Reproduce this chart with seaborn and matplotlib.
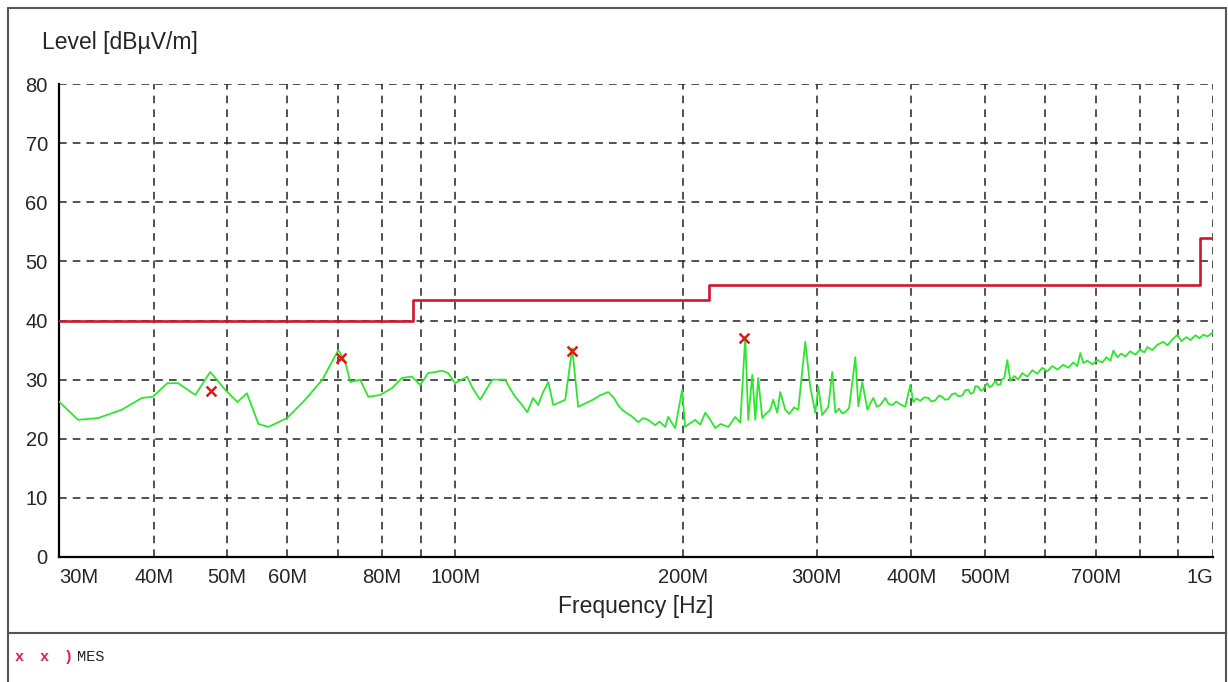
import matplotlib
matplotlib.use("Agg")
import matplotlib.pyplot as plt
from matplotlib.lines import Line2D
import seaborn as sns

freq_mhz = [30.0, 31.8, 33.8, 36.3, 38.6, 39.9, 41.7, 43.1, 45.4, 47.5, 49.7, 51.6, 53.1, 55.0, 56.7,
            60.0, 63.4, 66.8, 70.1, 71.6, 72.7, 74.9, 76.8, 79.6, 82.6, 85.1, 87.7, 89.9, 92.1, 96.1,
            97.9, 100.0, 103.7, 105.5, 107.9, 111.9, 116.4, 118.0, 120.0, 122.0, 124.5, 126.7, 128.7,
            130.5, 132.7, 134.7, 137.0, 139.7, 142.7, 145.3, 149.8, 152.0, 155.0, 159.2, 162.0, 164.0,
            166.1, 168.5, 171.0, 174.4, 177.0, 179.7, 183.6, 186.0, 189.3, 191.0, 195.1, 199.3, 201.1,
            204.0, 207.4, 210.5, 213.8, 217.1, 220.4, 224.0, 229.3, 234.2, 237.8, 241.4, 243.6, 246.6,
            248.9, 251.1, 254.2, 257.0, 260.4, 262.8, 266.1, 268.5, 272.6, 276.0, 280.0, 283.6, 289.7,
            294.1, 298.6, 301.4, 305.0, 310.7, 314.5, 317.4, 321.0, 324.0, 327.2, 331.0, 337.3, 340.4,
            344.5, 349.9, 353.0, 356.3, 360.0, 363.9, 369.5, 373.0, 377.4, 382.0, 387.0, 392.6, 398.6,
            402.3, 406.0, 411.0, 416.0, 421.1, 425.0, 430.1, 435.0, 439.3, 443.0, 447.4, 452.0, 457.0,
            461.0, 466.8, 471.0, 475.5, 479.0, 482.8, 486.0, 490.0, 494.0, 497.6, 503.7, 507.0, 511.4,
            516.1, 520.0, 524.0, 527.0, 530.4, 535.2, 540.2, 546.8, 553.4, 560.2, 568.8, 577.5, 586.3,
            595.3, 604.4, 613.7, 623.1, 634.5, 644.2, 654.1, 662.1, 668.2, 674.3, 682.6, 693.0, 703.6,
            714.4, 723.2, 732.0, 738.7, 747.7, 756.8, 766.1, 777.7, 789.6, 801.7, 811.5, 819.0, 831.6,
            844.3, 860.0, 870.6, 884.0, 897.5, 908.5, 922.4, 933.7, 948.0, 959.5, 971.0, 982.9, 998.0,
            1000.0]
level = [26.3, 23.2, 23.5, 24.9, 26.9, 27.1, 29.4, 29.4, 27.4, 31.3, 28.3, 26.2, 27.7, 22.5, 22.0,
         23.5, 26.6, 30.0, 35.0, 33.0, 29.6, 30.0, 27.1, 27.4, 28.6, 30.3, 30.5, 29.1, 31.1, 31.5,
         31.1, 29.4, 30.5, 28.5, 26.6, 30.0, 30.0, 28.6, 27.1, 26.0, 24.5, 26.9, 25.7,
         27.8, 29.6, 25.7, 26.1, 26.6, 35.3, 25.4, 26.2, 26.6, 27.3, 27.9, 26.9, 25.7,
         24.9, 24.3, 23.8, 22.8, 23.5, 23.2, 22.3, 22.9, 22.0, 23.7, 21.8, 28.3, 22.0,
         22.6, 23.2, 22.4, 24.4, 23.2, 21.8, 22.5, 22.0, 23.7, 22.7, 37.2, 23.2, 30.8,
         23.2, 30.3, 23.5, 24.2, 24.9, 26.6, 24.4, 27.9, 24.9, 24.2, 25.3, 24.9, 36.4,
         28.8, 24.4, 28.8, 24.0, 25.4, 31.3, 24.4, 25.1, 24.3, 24.5, 25.2, 33.8, 25.5,
         29.6, 24.9, 26.0, 26.9, 25.4, 25.7, 26.9, 25.9, 25.7, 26.3, 25.8, 25.4, 29.1,
         26.2, 26.8, 26.4, 27.0, 26.9, 26.3, 26.5, 27.3, 27.1, 26.6, 26.7, 27.5, 27.7,
         27.2, 27.3, 28.2, 28.3, 27.6, 27.8, 28.9, 28.8, 28.1, 28.4, 29.4, 28.7, 29.0,
         29.8, 29.1, 29.2, 30.1, 30.3, 33.3, 29.8, 30.6, 30.0, 31.1, 30.5, 31.6, 31.0,
         32.0, 31.4, 32.3, 31.7, 32.5, 32.0, 32.9, 32.3, 34.5, 32.8, 33.2, 32.6, 33.3,
         32.9, 33.8, 33.2, 34.9, 33.8, 34.4, 33.9, 34.8, 34.2, 35.1, 34.6, 35.5, 35.0,
         35.9, 36.4, 35.8, 36.8, 37.6, 36.5, 37.2, 36.7, 37.5, 37.0, 37.6, 37.3, 37.9,
         38.0]

# Limit line (FCC class B steps)
limit_mhz = [30, 88, 216, 960, 1000]
limit_db = [40, 43.5, 46, 54, 54]

# Final measurement points
mes_mhz = [47.6, 70.6, 142.5, 240.5]
mes_db = [28.1, 33.7, 34.9, 37.1]

tick_mhz = [30, 40, 50, 60, 70, 80, 90, 100, 200, 300, 400, 500, 600, 700, 800, 900, 1000]
tick_labels = ["30M", "40M", "50M", "60M", "", "80M", "", "100M", "200M", "300M", "400M",
               "500M", "", "700M", "", "", "1G"]

sns.set_theme(style="white")
plt.rcParams["font.family"] = ["Liberation Sans", "DejaVu Sans"]

fig = plt.figure(figsize=(12.28, 6.82), dpi=100)
ax = fig.add_axes([0.048, 0.1833, 0.9398, 0.6935])

sns.lineplot(x=[f * 1e6 for f in limit_mhz], y=limit_db, ax=ax, color="#cf1630",
             linewidth=1.9, drawstyle="steps-post", zorder=3)
sns.lineplot(x=[f * 1e6 for f in freq_mhz], y=level, ax=ax, color="#2fe62f",
             linewidth=1.3, zorder=4)
sns.scatterplot(x=[f * 1e6 for f in mes_mhz], y=mes_db, ax=ax, marker="x", color="#e01818",
                s=50, linewidth=1.8, zorder=5)

ax.set_xscale("log")
ax.set_xlim(30e6, 1000e6)
ax.set_ylim(0, 80)
ax.set_xticks([t * 1e6 for t in tick_mhz])
ax.set_xticklabels(tick_labels)
ax.minorticks_off()
ax.set_yticks(range(0, 81, 10))

xt = ax.get_xticklabels()
xt[0].set_horizontalalignment("left")
xt[-1].set_horizontalalignment("right")

ax.grid(True, which="major", linestyle=(0, (5, 4)), color="#222222", linewidth=1.1)
for s in ["top", "right"]:
    ax.spines[s].set_visible(False)
for s in ["left", "bottom"]:
    ax.spines[s].set_color("black")
    ax.spines[s].set_linewidth(1.6)

ax.tick_params(axis="x", direction="in", length=5, width=1, color="black",
               labelsize=14.5, pad=8)
ax.tick_params(axis="y", length=0, labelsize=14.5, pad=8)
ax.set_xlabel("Frequency [Hz]", fontsize=16.5, labelpad=6)
ax.set_ylabel("")

fig.text(0.034, 1 - 42 / 682, "Level [dB\u00b5V/m]", fontsize=16.5, va="center", ha="left")

# Frame of the report page and the legend strip below
W, H = 1228, 682
frame = [((8, 8), (8, 682)), ((8, 1226), (8, 8)), ((1226, 1226), (8, 682)), ((8, 1226), (633, 633))]
for xs, ys in frame:
    fig.add_artist(Line2D([x / W for x in xs], [1 - y / H for y in ys], color="#555555",
                          linewidth=1.5, transform=fig.transFigure))

mono = ["Liberation Mono", "DejaVu Sans Mono"]
for px, s in [(15, "x"), (40, "x"), (64, ")")]:
    fig.text(px / W, 1 - 657 / H, s, fontsize=11, color="#e0204a", family=mono,
             weight="bold", va="center")
fig.text(77 / W, 1 - 657 / H, "MES", fontsize=11, color="#222222", family=mono, va="center")

fig.savefig("out.png", dpi=100)
